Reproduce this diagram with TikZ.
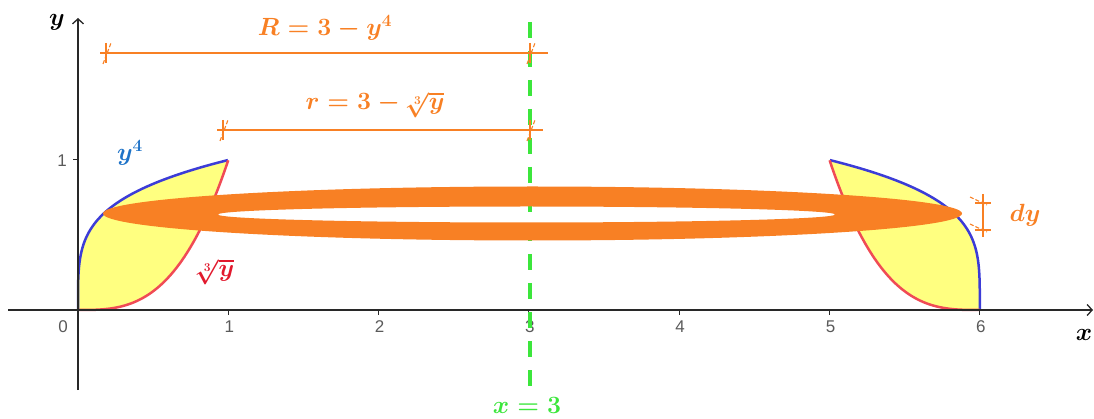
\documentclass[tikz,border=0pt]{standalone}
\usepackage{fontspec}
\newfontfamily\ticksf{Liberation Sans}
\usetikzlibrary{arrows.meta}
\definecolor{orng}{RGB}{248,128,36}
\definecolor{yel}{RGB}{255,255,128}
\definecolor{bluec}{RGB}{60,60,215}
\definecolor{redc}{RGB}{240,75,85}
\definecolor{labblue}{RGB}{30,115,200}
\definecolor{labred}{RGB}{225,25,45}
\definecolor{grn}{RGB}{60,230,60}
\definecolor{axisc}{RGB}{40,40,40}
\definecolor{tickc}{RGB}{90,90,90}
\newcommand\myhtick[1]{%
  \draw[orng,line width=1.1pt] ([yshift=10pt]#1) -- ([yshift=-10pt]#1);
  \draw[orng,line width=1.1pt,dash pattern=on 4pt off 2pt] ([xshift=-3pt,yshift=-11pt]#1) -- ([xshift=5pt,yshift=10pt]#1);}
\newcommand\myvtick[1]{%
  \draw[orng,line width=1.1pt] ([xshift=-8pt]#1) -- ([xshift=8pt]#1);
  \draw[orng,line width=1.1pt,dash pattern=on 4pt off 2pt] ([xshift=-13pt,yshift=6pt]#1) -- ([xshift=4pt,yshift=-2pt]#1);}
\begin{document}
\begin{tikzpicture}[x=1pt,y=-1pt,
  lab/.style={inner sep=0pt, font=\fontsize{25}{29}\selectfont\boldmath},
  ticklab/.style={inner sep=0pt, font=\ticksf\fontsize{17}{20}\selectfont, text=tickc},
  dimline/.style={orng, line width=1.3pt},
  curveb/.style={bluec, line width=2.5pt},
  curver/.style={redc, line width=2.5pt},
  axisline/.style={axisc, line width=1.3pt},
]
\useasboundingbox (0,0) rectangle (1094,419);
\clip (0,0) rectangle (1094,419);

% yellow regions
\fill[yel] plot[variable=\t,domain=0:1,samples=80] ({78+150.3*\t^4},{310-150*\t})
  -- plot[variable=\t,domain=1:0,samples=80] ({78+150.3*\t},{310-150*\t^3}) -- cycle;
\fill[yel] plot[variable=\t,domain=0:1,samples=80] ({78+150.3*(6-\t^4)},{310-150*\t})
  -- plot[variable=\t,domain=1:0,samples=80] ({78+150.3*(6-\t)},{310-150*\t^3}) -- cycle;

% curves
\draw[curveb] plot[variable=\t,domain=0:1,samples=80] ({78+150.3*\t^4},{310-150*\t});
\draw[curver] plot[variable=\t,domain=0:1,samples=80] ({78+150.3*\t},{310-150*\t^3});
\draw[curveb] plot[variable=\t,domain=0:1,samples=80] ({78+150.3*(6-\t^4)},{310-150*\t});
\draw[curver] plot[variable=\t,domain=0:1,samples=80] ({78+150.3*(6-\t)},{310-150*\t^3});

% axes
\coordinate (xs) at (8,310);
\coordinate (xe) at (1093,310);
\coordinate (ys) at (78,390);
\coordinate (ye) at (78,18);
\draw[axisline,-{Straight Barb[length=5pt,width=11pt]}] (xs) -- (xe);
\draw[axisline,-{Straight Barb[length=5pt,width=11pt]}] (ys) -- (ye);
\foreach \i in {1,...,6} {
  \draw[axisc, line width=1pt] ({78+150.3*\i},310) -- ++(0,5);
  \node[ticklab] (tx\i) at ({78+150.3*\i+1},327) {\i};
}
\node[ticklab] (tx0) at (63,327) {0};
\draw[axisc, line width=1pt] (78,160) -- (73,160);
\node[ticklab] (ty1) at (62,161) {1};

% axis of revolution
\coordinate (gs) at (530,22);
\coordinate (ge) at (530,392);
\draw[grn, line width=3.5pt, dash pattern=on 16pt off 13pt] (gs) -- (ge);

% washer
\fill[orng, even odd rule] (532.5,213.5) ellipse [x radius=429.5pt, y radius=27pt]
  (526.5,214.5) ellipse [x radius=308.5pt, y radius=8pt];

% dimension lines
\coordinate (Ra) at (100,53);
\coordinate (Rb) at (548,53);
\coordinate (Rt1) at (106,53);
\coordinate (Rt2) at (530,53);
\draw[dimline] (Ra) -- (Rb);
\myhtick{Rt1}
\myhtick{Rt2}
\coordinate (ra) at (217,130);
\coordinate (rb) at (543,130);
\coordinate (rt1) at (223,130);
\coordinate (rt2) at (530,130);
\draw[dimline] (ra) -- (rb);
\myhtick{rt1}
\myhtick{rt2}
\coordinate (da) at (983,194);
\coordinate (db) at (983,237);
\coordinate (dt1) at (983,203);
\coordinate (dt2) at (983,230);
\draw[dimline] (da) -- (db);
\myvtick{dt1}
\myvtick{dt2}

% labels
\node[lab, text=orng] (Rlab) at (325,28) {$R=3-y^4$};
\node[lab, text=orng] (rlab) at (375,105) {$r=3-\sqrt[3]{y}$};
\node[lab, text=labblue] (y4) at (130,153) {$y^4$};
\node[lab, text=labred] (cbrt) at (215,272) {$\sqrt[3]{y}$};
\node[lab, text=orng] (dylab) at (1025,215) {$dy$};
\node[lab, text=grn] (x3) at (527,405) {$x=3$};
\node[lab, text=black] (ylab) at (57,22) {$y$};
\node[lab, text=black] (xlab) at (1084,335) {$x$};
\end{tikzpicture}
\end{document}
